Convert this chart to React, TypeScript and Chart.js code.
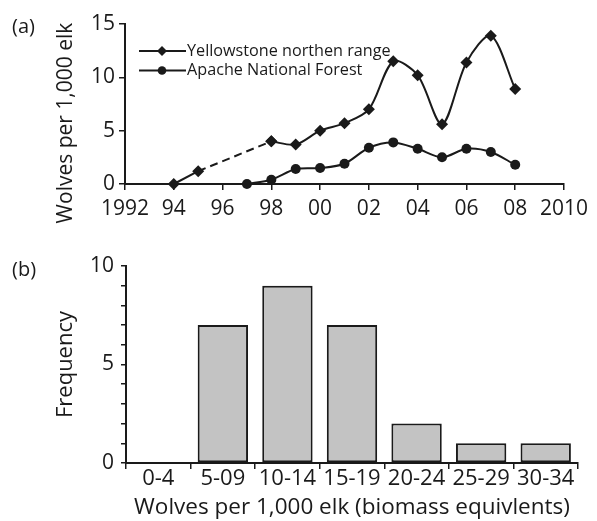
import { useEffect, useRef } from 'react';
import { Chart, registerables } from 'chart.js';

Chart.register(...registerables);

// ---- data ----
const yellowstoneYears = [1994, 1995, 1998, 1999, 2000, 2001, 2002, 2003, 2004, 2005, 2006, 2007, 2008];
const yellowstoneWolves = [0, 1.2, 4.0, 3.7, 5.0, 5.7, 7.0, 11.5, 10.2, 5.6, 11.4, 13.9, 8.9];
const apacheYears = [1997, 1998, 1999, 2000, 2001, 2002, 2003, 2004, 2005, 2006, 2007, 2008];
const apacheWolves = [0, 0.4, 1.4, 1.5, 1.9, 3.4, 3.9, 3.3, 2.5, 3.3, 3.0, 1.8];
const yearTicks = [1992, 1994, 1996, 1998, 2000, 2002, 2004, 2006, 2008, 2010];
const yearTickLabels = ['1992', '94', '96', '98', '00', '02', '04', '06', '08', '2010'];
const densityTicks = [0, 5, 10, 15];

const freqCategories = ['0-4', '5-09', '10-14', '15-19', '20-24', '25-29', '30-34'];
const freqValues = [0, 7, 9, 7, 2, 1, 1];
const freqLabelledTicks = [0, 5, 10];

const legendLabels = ['Yellowstone northen range', 'Apache National Forest'];

const FONT = "'Open Sans', 'DejaVu Sans', sans-serif";
const INK = '#1a1a1a';

const toPoints = (xs: number[], ys: number[]) => xs.map((x, i) => ({ x, y: ys[i] }));

const topPlugin = {
  id: 'topDecor',
  afterDraw(chart: any) {
    const ctx = chart.ctx as CanvasRenderingContext2D;
    ctx.save();
    ctx.fillStyle = INK;
    ctx.strokeStyle = INK;
    // panel label
    ctx.font = `20px ${FONT}`;
    ctx.textAlign = 'left';
    ctx.textBaseline = 'middle';
    ctx.fillText('(a)', 12, 27);
    // y title
    ctx.save();
    ctx.translate(66, 123);
    ctx.rotate(-Math.PI / 2);
    ctx.textAlign = 'center';
    ctx.font = `21px ${FONT}`;
    ctx.fillText('Wolves per 1,000 elk', 0, 0);
    ctx.restore();
    // legend
    const rows = [51, 70.5];
    rows.forEach((y, i) => {
      ctx.lineWidth = 2;
      ctx.beginPath();
      ctx.moveTo(139, y);
      ctx.lineTo(186, y);
      ctx.stroke();
      ctx.beginPath();
      if (i === 0) {
        const r = 5;
        ctx.moveTo(162 - r, y);
        ctx.lineTo(162, y - r);
        ctx.lineTo(162 + r, y);
        ctx.lineTo(162, y + r);
        ctx.closePath();
      } else {
        ctx.arc(162, y, 4.3, 0, Math.PI * 2);
      }
      ctx.fill();
      ctx.font = `16.2px ${FONT}`;
      ctx.textAlign = 'left';
      ctx.textBaseline = 'middle';
      ctx.fillText(legendLabels[i], 187, y);
    });
    ctx.restore();
  },
};

const bottomPlugin = {
  id: 'bottomDecor',
  afterDraw(chart: any) {
    const ctx = chart.ctx as CanvasRenderingContext2D;
    ctx.save();
    ctx.fillStyle = INK;
    ctx.font = `20px ${FONT}`;
    ctx.textAlign = 'left';
    ctx.textBaseline = 'middle';
    ctx.fillText('(b)', 12, 30);
    ctx.restore();
  },
};

export default function App() {
  const topRef = useRef<HTMLCanvasElement>(null);
  const botRef = useRef<HTMLCanvasElement>(null);

  useEffect(() => {
    const nYearEarly = yellowstoneYears.indexOf(1998) + 1;
    const early = toPoints(yellowstoneYears.slice(0, nYearEarly), yellowstoneWolves.slice(0, nYearEarly));
    const late = toPoints(yellowstoneYears.slice(nYearEarly - 1), yellowstoneWolves.slice(nYearEarly - 1));
    const apache = toPoints(apacheYears, apacheWolves);

    const lineCommon = {
      borderColor: INK,
      backgroundColor: INK,
      borderWidth: 2,
      pointBorderWidth: 0,
      pointBackgroundColor: INK,
      fill: false,
      clip: false as any,
    };

    const tickGrid = { drawOnChartArea: false, tickLength: 6, color: INK, lineWidth: 1.5 };
    const border = { color: INK, width: 2 };

    const c1 = new Chart(topRef.current!, {
      type: 'line',
      data: {
        datasets: [
          {
            ...lineCommon,
            label: legendLabels[0],
            data: early,
            tension: 0,
            pointStyle: 'rectRot',
            pointRadius: 6,
            segment: {
              borderDash: (c: any) => (c.p0.parsed.x === 1995 ? [8, 5] : undefined),
            },
          },
          {
            ...lineCommon,
            label: legendLabels[0],
            data: late,
            tension: 0.3,
            pointStyle: 'rectRot',
            pointRadius: 6,
          },
          {
            ...lineCommon,
            label: legendLabels[1],
            data: apache,
            tension: 0.3,
            pointStyle: 'circle',
            pointRadius: 5,
          },
        ],
      },
      options: {
        animation: false,
        responsive: false,
        events: [],
        layout: { padding: { top: 24, right: 24, left: 0, bottom: 0 } },
        plugins: { legend: { display: false }, tooltip: { enabled: false } },
        scales: {
          x: {
            type: 'linear',
            min: 1992,
            max: 2010,
            afterBuildTicks: (s: any) => {
              s.ticks = yearTicks.map((v) => ({ value: v }));
            },
            ticks: {
              callback: (v: any) => yearTickLabels[yearTicks.indexOf(Number(v))] ?? '',
              font: { family: FONT, size: 21, lineHeight: 1 },
              color: INK,
              padding: 9,
              maxRotation: 0,
              autoSkip: false,
            },
            grid: tickGrid,
            border,
            afterFit: (s: any) => {
              s.height = 56;
            },
          },
          y: {
            min: 0,
            max: 15,
            afterBuildTicks: (s: any) => {
              s.ticks = densityTicks.map((v) => ({ value: v }));
            },
            ticks: {
              font: { family: FONT, size: 21, lineHeight: 1 },
              color: INK,
              padding: 4,
            },
            grid: tickGrid,
            border,
            afterFit: (s: any) => {
              s.width = 125;
            },
          },
        },
      },
      plugins: [topPlugin],
    });

    const c2 = new Chart(botRef.current!, {
      type: 'bar',
      data: {
        labels: freqCategories,
        datasets: [
          {
            label: 'Frequency',
            data: freqValues,
            backgroundColor: '#c3c3c3',
            borderColor: INK,
            borderWidth: 2,
            borderSkipped: false,
            categoryPercentage: 1,
            barPercentage: 0.78,
          },
        ],
      },
      options: {
        animation: false,
        responsive: false,
        events: [],
        layout: { padding: { top: 26, right: 19, left: 0, bottom: 0 } },
        plugins: { legend: { display: false }, tooltip: { enabled: false } },
        scales: {
          x: {
            grid: { ...tickGrid, offset: true },
            border,
            ticks: {
              font: { family: FONT, size: 22, lineHeight: 1 },
              color: INK,
              padding: -1,
              maxRotation: 0,
              autoSkip: false,
            },
            title: {
              display: true,
              text: 'Wolves per 1,000 elk (biomass equivlents)',
              font: { family: FONT, size: 22.5 },
              color: INK,
              padding: { top: 0, bottom: 0 },
            },
            afterFit: (s: any) => {
              s.height = 58;
            },
          },
          y: {
            min: 0,
            max: 10,
            ticks: {
              stepSize: 1,
              callback: (v: any) => (freqLabelledTicks.includes(Number(v)) ? String(v) : ''),
              font: { family: FONT, size: 21, lineHeight: 1 },
              color: INK,
              padding: 7,
              autoSkip: false,
            },
            grid: { ...tickGrid, tickLength: 5 },
            border,
            title: {
              display: true,
              text: 'Frequency',
              font: { family: FONT, size: 22 },
              color: INK,
              padding: { top: 53, bottom: 0 },
            },
            afterFit: (s: any) => {
              s.width = 126;
            },
          },
        },
      },
      plugins: [bottomPlugin],
    });

    return () => {
      c1.destroy();
      c2.destroy();
    };
  }, []);

  return (
    <div style={{ position: 'fixed', left: 0, top: 0, width: 597, height: 521, background: '#fff' }}>
      <canvas
        ref={topRef}
        width={597}
        height={240}
        style={{ position: 'absolute', left: 0, top: 0, width: 597, height: 240, display: 'block' }}
      />
      <canvas
        ref={botRef}
        width={597}
        height={281}
        style={{ position: 'absolute', left: 0, top: 240, width: 597, height: 281, display: 'block' }}
      />
    </div>
  );
}
